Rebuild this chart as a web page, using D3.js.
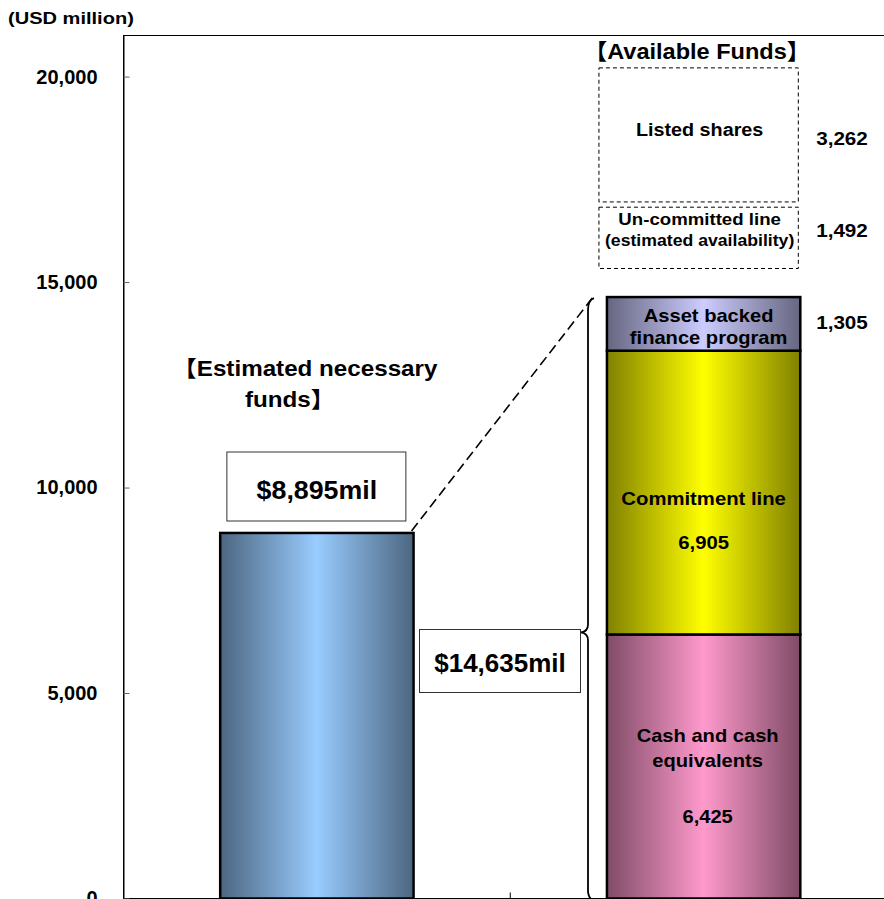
<!DOCTYPE html>
<html>
<head>
<meta charset="utf-8">
<script src="https://cdn.jsdelivr.net/npm/d3@7/dist/d3.min.js"></script>
<style>
  html, body { margin: 0; padding: 0; background: #fff; overflow: hidden; }
  svg { display: block; }
  text { font-family: "Liberation Sans", Arial, "Noto Sans CJK JP", sans-serif; font-weight: bold; fill: #000; }
</style>
</head>
<body>
<svg id="chart" width="884" height="899"></svg>
<script>
// Funding overview, USD million
const categories = ["Estimated necessary funds", "Available funds"];
const necessaryValues = [8895];
const stackNames = ["Cash and cash equivalents", "Commitment line", "Asset backed finance program"];
const stackValues = [6425, 6905, 1305];
const potentialNames = ["Un-committed line (estimated availability)", "Listed shares"];
const potentialValues = [1492, 3262];
const yTickValues = [0, 5000, 10000, 15000, 20000];

const fmt = d3.format(",");
const totalAvailable = d3.sum(stackValues);

const svg = d3.select("#chart");
const plot = { left: 123.5, right: 897, top: 35.5, bottom: 898.5 };

const y = d3.scaleLinear().domain([0, 21000]).range([plot.bottom, plot.top]);
const x = d3.scaleBand().domain(categories).range([plot.left, plot.right])
  .paddingInner(0.5).paddingOuter(0.25);

// gradients: dark edges, bright centre
const defs = svg.append("defs");
const shades = {
  blue:  ["#4c6680", "#99ccff"],
  pink:  ["#7f4c66", "#ff99cc"],
  yellow:["#808000", "#ffff00"],
  lav:   ["#666680", "#ccccff"]
};
Object.entries(shades).forEach(([k, [dark, light]]) => {
  const g = defs.append("linearGradient").attr("id", "g-" + k)
    .attr("x1", "0%").attr("x2", "100%").attr("y1", "0%").attr("y2", "0%");
  g.append("stop").attr("offset", "0%").attr("stop-color", dark);
  g.append("stop").attr("offset", "50%").attr("stop-color", light);
  g.append("stop").attr("offset", "100%").attr("stop-color", dark);
});
const stackFill = ["url(#g-pink)", "url(#g-yellow)", "url(#g-lav)"];

// text helper with horizontal stretch
function label(str, cx, cy, size, opts = {}) {
  const sx = opts.sx || 1;
  svg.append("text")
    .attr("transform", `translate(${cx},${cy}) scale(${sx},1)`)
    .attr("text-anchor", opts.anchor || "middle")
    .style("font-size", size + "px")
    .text(str);
}

// plot frame
svg.append("rect")
  .attr("x", plot.left).attr("y", plot.top)
  .attr("width", plot.right - plot.left).attr("height", plot.bottom - plot.top)
  .attr("fill", "none").attr("stroke", "#000").attr("stroke-width", 1);

// y axis
const yAxis = svg.append("g").attr("transform", `translate(${plot.left},0)`)
  .call(d3.axisLeft(y).tickValues(yTickValues).tickFormat(fmt).tickSizeInner(-6).tickSizeOuter(0).tickPadding(26));
yAxis.select(".domain").attr("stroke", "#000");
yAxis.selectAll(".tick line").attr("stroke", "#666");
yAxis.selectAll(".tick text")
  .style("font-size", "20px").style("font-family", "'Liberation Sans', Arial, sans-serif").style("font-weight", "bold");

// category separator tick on the baseline
svg.append("line")
  .attr("x1", x(categories[1]) - x.step() * 0.25).attr("x2", x(categories[1]) - x.step() * 0.25)
  .attr("y1", plot.bottom).attr("y2", plot.bottom - 6)
  .attr("stroke", "#000");

label("(USD million)", 8, 24, 17, { anchor: "start", sx: 1.18 });

// necessary funds bar
svg.selectAll("rect.need").data(necessaryValues).join("rect")
  .attr("class", "need")
  .attr("x", x(categories[0])).attr("width", x.bandwidth())
  .attr("y", d => y(d)).attr("height", d => y(0) - y(d))
  .attr("fill", "url(#g-blue)").attr("stroke", "#000").attr("stroke-width", 2.5);

// available funds stack
const stackRow = {};
stackNames.forEach((n, i) => stackRow[n] = stackValues[i]);
const series = d3.stack().keys(stackNames)([stackRow]);
svg.selectAll("rect.avail").data(series).join("rect")
  .attr("class", "avail")
  .attr("x", x(categories[1])).attr("width", x.bandwidth())
  .attr("y", d => y(d[0][1])).attr("height", d => y(d[0][0]) - y(d[0][1]))
  .attr("fill", (d, i) => stackFill[i]).attr("stroke", "#000").attr("stroke-width", 2.5);

// potential sources (dashed, placed above the stack)
const bx = x(categories[1]) - 8, bw = x.bandwidth() + 6;
const potentialBase = [15330, 16950];
svg.selectAll("rect.pot").data(potentialValues).join("rect")
  .attr("class", "pot")
  .attr("x", bx).attr("width", bw)
  .attr("y", (d, i) => y(potentialBase[i] + d))
  .attr("height", (d, i) => y(potentialBase[i]) - y(potentialBase[i] + d))
  .attr("fill", "none").attr("stroke", "#000").attr("stroke-width", 1)
  .attr("stroke-dasharray", "4,3");

// in-bar labels
const cx2 = x(categories[1]) + x.bandwidth() / 2;
label("Asset backed", cx2 + 5, 322, 17.5, { sx: 1.15 });
label("finance program", cx2 + 5, 344, 17.5, { sx: 1.15 });
label("Commitment line", cx2, 505, 17.5, { sx: 1.16 });
label(fmt(stackValues[1]), cx2, 549, 17.5, { sx: 1.16 });
label("Cash and cash", cx2 + 4, 742, 17.5, { sx: 1.15 });
label("equivalents", cx2 + 4, 767, 17.5, { sx: 1.15 });
label(fmt(stackValues[0]), cx2 + 4, 823, 17.5, { sx: 1.15 });

// dashed-box labels
label("Listed shares", cx2 - 4, 136, 17.5, { sx: 1.13 });
label("Un-committed line", cx2 - 4, 225, 16.5, { sx: 1.13 });
label("(estimated availability)", cx2 - 4, 246, 16.5, { sx: 1.07 });

// values to the right
const vx = 842;
label(fmt(potentialValues[1]), vx, 145, 17.5, { sx: 1.18 });
label(fmt(potentialValues[0]), vx, 237, 17.5, { sx: 1.18 });
label(fmt(stackValues[2]), vx, 329, 17.5, { sx: 1.18 });

// headings
label("【Available Funds】", 697, 59, 22, { sx: 1.07 });
label("【Estimated necessary", 305, 376, 22, { sx: 1.1 });
label("funds】", 290, 407, 22, { sx: 1.1 });

// value call-out boxes
const cx1 = x(categories[0]) + x.bandwidth() / 2;
svg.append("rect").attr("x", cx1 - 90).attr("y", 452).attr("width", 179).attr("height", 69)
  .attr("fill", "#fff").attr("stroke", "#333").attr("stroke-width", 1);
label("$" + fmt(necessaryValues[0]) + "mil", cx1, 499, 26, { sx: 1.03 });

svg.append("rect").attr("x", 419.5).attr("y", 629.5).attr("width", 161).attr("height", 63)
  .attr("fill", "#fff").attr("stroke", "#333").attr("stroke-width", 1);
label("$" + fmt(totalAvailable) + "mil", 500, 672, 26, { sx: 1.0 });

// brace spanning the available stack
const bxs = 588, tipX = 581;
const yTop = y(totalAvailable) + 3, yBot = y(0) + 2, yTip = y(stackValues[0]) - 2;
svg.append("path")
  .attr("d", `M${bxs + 6},${yTop - 2} Q${bxs},${yTop} ${bxs},${yTop + 10}
              L${bxs},${yTip - 8} Q${bxs},${yTip - 1} ${tipX},${yTip}
              Q${bxs},${yTip + 1} ${bxs},${yTip + 8}
              L${bxs},${yBot - 10} Q${bxs},${yBot - 2} ${bxs + 6},${yBot}`)
  .attr("fill", "none").attr("stroke", "#000").attr("stroke-width", 1.8);

// dashed connector from the necessary bar to the brace
svg.append("line")
  .attr("x1", x(categories[0]) + x.bandwidth() - 2).attr("y1", y(necessaryValues[0]) - 2)
  .attr("x2", bxs + 5).attr("y2", yTop - 3)
  .attr("stroke", "#000").attr("stroke-width", 1.6).attr("stroke-dasharray", "10,5");
</script>
</body>
</html>
